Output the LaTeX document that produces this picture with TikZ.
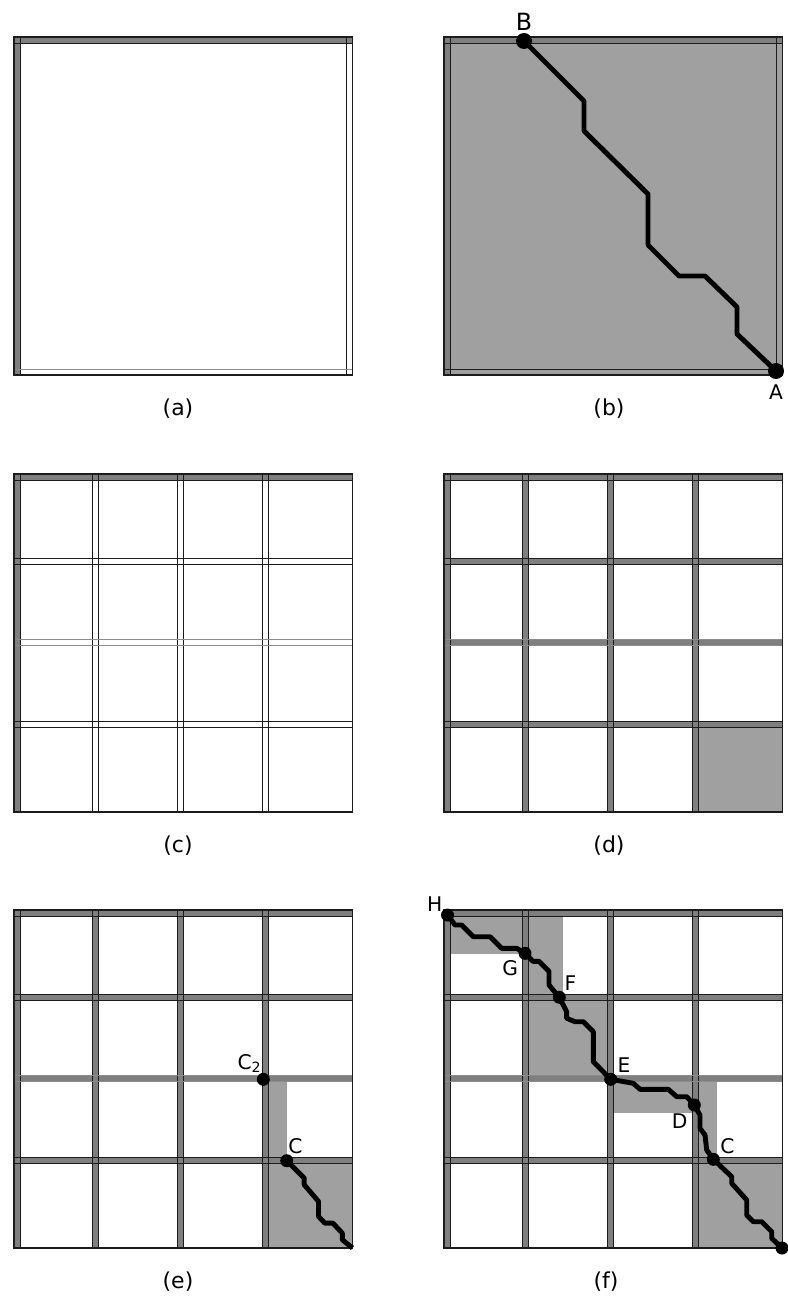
\documentclass[tikz,border=0pt]{standalone}
\usepackage{fontspec}
\setmainfont{DejaVu Sans}
\usetikzlibrary{positioning}
\definecolor{linegrey}{HTML}{1C1C1C}
\definecolor{bandgrey}{HTML}{7F7F7F}
\definecolor{donegrey}{HTML}{A0A0A0}
\definecolor{faintgrey}{HTML}{8C8C8C}
\begin{document}
\begin{tikzpicture}[x=0.02cm,y=-0.02cm,
 band/.style={fill=bandgrey},
 rim/.style={draw=linegrey,line width=0.5pt},
 outline/.style={draw=linegrey,line width=1.1pt},
 done/.style={fill=donegrey},
 route/.style={line width=2.8pt,line join=round},
 pt/.style={circle,fill=black,inner sep=0pt,minimum size=0.32cm},
 tag/.style={font=\fontsize{11.5}{13}\selectfont,inner sep=1pt},
 sublabel/.style={font=\fontsize{12.5}{14}\selectfont}]
\useasboundingbox (0,0) rectangle (787,1297);

% (a) empty matrix
\begin{scope}[shift={(14,37)}]
\fill[band] (0,0) rectangle (338.5,6);
\fill[band] (0,0) rectangle (6,338);
\draw[rim] (0,0) rectangle (338.5,6) (0,0) rectangle (6,338) (332.5,0) rectangle (338.5,338);
\draw[rim,draw=faintgrey] (0,332) -- (338.5,332);
\draw[outline] (0,0) rectangle (338.5,338);
\node[sublabel] (capa) at (164,372) {(a)};
\end{scope}

% (b) whole matrix and its path
\begin{scope}[shift={(444,37)}]
\fill[done] (0,0) rectangle (338.5,338);
\fill[band] (0,0) rectangle (338.5,6);
\fill[band] (0,0) rectangle (6,338);
\draw[rim] (0,0) rectangle (338.5,6) (0,0) rectangle (6,338)
 (332.5,0) rectangle (338.5,338) (0,332) rectangle (338.5,338);
\draw[outline] (0,0) rectangle (338.5,338);
\node[pt] (B) at (80,4) {};
\node[pt] (A) at (332,334) {};
\draw[route] (B.center) -- ++(60,60) -- ++(0,30) -- ++(64,63) -- ++(0,51)
 -- ++(31,31) -- ++(26,0) -- ++(32,31) -- ++(0,27) -- (A.center);
\node[tag,font=\fontsize{13.5}{15}\selectfont,above=0pt of B] (labB) {B};
\node[tag,below=2pt of A] (labA) {A};
\node[sublabel] (capb) at (165,372) {(b)};
\end{scope}

% (c) split into blocks
\begin{scope}[shift={(14,474)}]
\fill[band] (0,0) rectangle (338.5,6);
\fill[band] (0,0) rectangle (6,338);
\draw[rim] (0,0) rectangle (338.5,6) (0,0) rectangle (6,338);
\foreach \u in {78.5,163.5,248.5} {\draw[rim] (\u,0) rectangle ++(6,338);}
\foreach \v in {84.5,247.5} {\draw[rim] (0,\v) rectangle ++(338.5,6);}
\draw[rim,draw=faintgrey] (0,165.5) rectangle ++(338.5,6);
\draw[outline] (0,0) rectangle (338.5,338);
\node[sublabel] (capc) at (164,372) {(c)};
\end{scope}

% (d) borders filled, last block
\begin{scope}[shift={(444,474)}]
\fill[done] (254.5,253.5) rectangle (338.5,338);
\foreach \u in {0,78.5,163.5,248.5} {\fill[band] (\u,0) rectangle ++(6,338);}
\foreach \v in {0,84.5,165.5,247.5} {\fill[band] (0,\v) rectangle ++(338.5,6);}
\foreach \u in {0,78.5,163.5,248.5} {\draw[rim] (\u,0) rectangle ++(6,338);}
\foreach \v in {0,84.5,247.5} {\draw[rim] (0,\v) rectangle ++(338.5,6);}
\draw[rim,draw=faintgrey] (0,165.5) rectangle ++(338.5,6);
\draw[outline] (0,0) rectangle (338.5,338);
\node[sublabel] (capd) at (165,372) {(d)};
\end{scope}

% (e) back to C2
\begin{scope}[shift={(14,910)}]
\fill[done] (254.5,171.5) rectangle (272.7,247.5);
\fill[done] (254.5,253.5) rectangle (338.5,338);
\foreach \u in {0,78.5,163.5,248.5} {\fill[band] (\u,0) rectangle ++(6,338);}
\foreach \v in {0,84.5,165.5,247.5} {\fill[band] (0,\v) rectangle ++(338.5,6);}
\foreach \u in {0,78.5,163.5,248.5} {\draw[rim] (\u,0) rectangle ++(6,338);}
\foreach \v in {0,84.5,247.5} {\draw[rim] (0,\v) rectangle ++(338.5,6);}
\draw[rim,draw=faintgrey] (0,165.5) rectangle ++(338.5,6);
\draw[outline] (0,0) rectangle (338.5,338);
\node[pt,minimum size=0.26cm] (C2) at (249.3,169.3) {};
\node[pt,minimum size=0.26cm] (Ce) at (272.7,250.7) {};
\coordinate (Ze) at (338.5,338);
\draw[route] (Ce.center) -- ++(17.5,17.4) -- ++(0,6.6) -- ++(14.3,16.7) -- ++(0,15)
 -- ++(6.3,6.7) -- ++(8,0) -- ++(9.5,10) -- ++(0,6.6) -- (Ze);
\node[tag,above left=0pt and -3pt of C2] (labC2) {C\textsubscript{2}};
\node[tag,above right=0pt and -3pt of Ce] (labCe) {C};
\node[sublabel] (cape) at (164,372) {(e)};
\end{scope}

% (f) full path
\begin{scope}[shift={(444,910)}]
\fill[done] (4,6) rectangle (78.5,44);
\fill[done] (78.5,6) rectangle (118.7,84.5);
\fill[done] (84.5,90.5) rectangle (163.5,165.5);
\fill[done] (169.5,171.5) rectangle (248.5,202.7);
\fill[done] (248.5,171.5) rectangle (272.7,247.5);
\fill[done] (254.5,253.5) rectangle (338.5,338);
\foreach \u in {0,78.5,163.5,248.5} {\fill[band] (\u,0) rectangle ++(6,338);}
\foreach \v in {0,84.5,165.5,247.5} {\fill[band] (0,\v) rectangle ++(338.5,6);}
\foreach \u in {0,78.5,163.5,248.5} {\draw[rim] (\u,0) rectangle ++(6,338);}
\foreach \v in {0,84.5,247.5} {\draw[rim] (0,\v) rectangle ++(338.5,6);}
\draw[rim,draw=faintgrey] (0,165.5) rectangle ++(338.5,6);
\draw[outline] (0,0) rectangle (338.5,338);
\node[pt,minimum size=0.26cm] (H) at (3.5,5) {};
\node[pt,minimum size=0.26cm] (G) at (81,43.3) {};
\node[pt,minimum size=0.26cm] (F) at (115.3,87.3) {};
\node[pt,minimum size=0.26cm] (E) at (166.7,169.3) {};
\node[pt,minimum size=0.26cm] (D) at (250.3,195) {};
\node[pt,minimum size=0.26cm] (Cf) at (269.3,249.3) {};
\node[pt,minimum size=0.26cm] (Z) at (338,338) {};
\draw[route] (H.center) -- (11,15) -- (17.7,15) -- (29.3,26.7) -- (46,26.7)
 -- (57.7,38.3) -- (72.7,38.3) -- (G.center);
\draw[route] (G.center) -- (89,51.3) -- (95,51.3) -- (105,61.3) -- (105,75) -- (F.center);
\draw[route] (F.center) -- (122.7,101.7) -- (122.7,108.3) -- (131,111.7) -- (139.3,111.7)
 -- (149.3,121.7) -- (149.3,151.7) -- (E.center);
\draw[route] (E.center) -- (189.3,173.3) -- (196,179.3) -- (224.3,179.3) -- (232.7,186.7)
 -- (242.7,186.7) -- (D.center);
\draw[route] (D.center) -- (256,205) -- (256,218.3) -- (261,225) -- (262.7,240) -- (Cf.center);
\draw[route] (Cf.center) -- (287.7,266.7) -- (287.7,273.3) -- (302.7,290) -- (302.7,305)
 -- (309.3,311.7) -- (317.7,311.7) -- (327.7,321.7) -- (327.7,328.3) -- (Z.center);
\node[tag,above left=-2pt and -1pt of H] (labH) {H};
\node[tag,below left=0pt and 0pt of G] (labG) {G};
\node[tag,above right=0pt and -1pt of F] (labF) {F};
\node[tag,above right=0pt and 0pt of E] (labE) {E};
\node[tag,below left=1pt and 0pt of D] (labD) {D};
\node[tag,above right=-1pt and 0pt of Cf] (labCf) {C};
\node[sublabel] (capf) at (162,372) {(f)};
\end{scope}
\end{tikzpicture}
\end{document}
